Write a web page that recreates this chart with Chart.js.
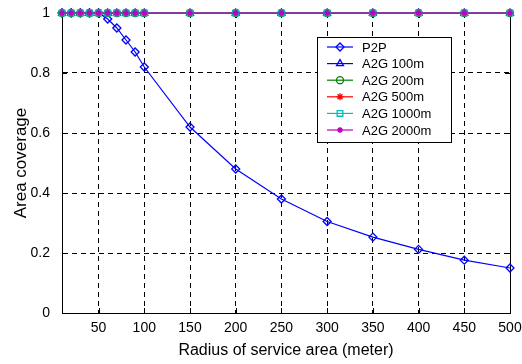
<!DOCTYPE html>
<html>
<head>
<meta charset="utf-8">
<script src="https://cdn.jsdelivr.net/npm/chart.js@4/dist/chart.umd.min.js"></script>
<style>
  html, body { margin: 0; padding: 0; background: #fff; }
  #wrap { width: 522px; height: 364px; position: relative; }
</style>
</head>
<body>
<div id="wrap"><canvas id="c"></canvas></div>
<script>
// ── Data ─────────────────────────────────────────────────────
const radius    = [10, 20, 30, 40, 50, 60, 70, 80, 90, 100, 150, 200, 250, 300, 350, 400, 450, 500];
const p2p       = [1, 1, 1, 1, 1, 0.98, 0.95, 0.91, 0.87, 0.82, 0.62, 0.48, 0.38, 0.305, 0.253, 0.212, 0.176, 0.15];
const a2g100    = [1, 1, 1, 1, 1, 1, 1, 1, 1, 1, 1, 1, 1, 1, 1, 1, 1, 1];
const a2g200    = [1, 1, 1, 1, 1, 1, 1, 1, 1, 1, 1, 1, 1, 1, 1, 1, 1, 1];
const a2g500    = [1, 1, 1, 1, 1, 1, 1, 1, 1, 1, 1, 1, 1, 1, 1, 1, 1, 1];
const a2g1000   = [1, 1, 1, 1, 1, 1, 1, 1, 1, 1, 1, 1, 1, 1, 1, 1, 1, 1];
const a2g2000   = [1, 1, 1, 1, 1, 1, 1, 1, 1, 1, 1, 1, 1, 1, 1, 1, 1, 1];
const xTicks    = [50, 100, 150, 200, 250, 300, 350, 400, 450, 500];
const yTicks    = [0, 0.2, 0.4, 0.6, 0.8, 1];

const FONT = "'Liberation Sans', Arial, sans-serif";

const toXY = (vals) => vals.map((v, i) => ({ x: radius[i], y: v }));

// ── Series definitions ───────────────────────────────────────
const series = [
  { label: 'P2P',        data: p2p,     color: '#0000ff', style: 'rectRot',  r: 4,   fill: false, order: 5 },
  { label: 'A2G 100m',   data: a2g100,  color: '#0000ff', style: 'triangle', r: 4,   fill: false, order: 4 },
  { label: 'A2G 200m',   data: a2g200,  color: '#008000', style: 'circle',   r: 3.5, fill: false, order: 3 },
  { label: 'A2G 500m',   data: a2g500,  color: '#ff0000', style: 'star',     r: 3.5, fill: false, order: 2 },
  { label: 'A2G 1000m',  data: a2g1000, color: '#00bfbf', style: 'rect',     r: 4,   fill: false, order: 1 },
  { label: 'A2G 2000m',  data: a2g2000, color: '#bf00bf', style: 'circle',   r: 2,   fill: true,  order: 0 },
];

const datasets = series.map(s => ({
  label:                s.label,
  data:                 toXY(s.data),
  borderColor:          s.color,
  borderWidth:          1.2,
  pointStyle:           s.style,
  pointRadius:          s.r,
  pointBorderColor:     s.color,
  pointBorderWidth:     1.3,
  pointBackgroundColor: s.fill ? s.color : 'rgba(0,0,0,0)',
  tension:              0,
  fill:                 false,
  clip:                 false,
  order:                s.order,
}));

// ── Plugin: box frame + inward ticks on all four sides ───────
const frame = {
  id: 'frame',
  beforeDatasetsDraw(chart) {
    const { ctx, chartArea: a, scales: { x, y } } = chart;
    ctx.save();
    ctx.strokeStyle = '#000';
    ctx.lineWidth = 1;
    ctx.beginPath();
    xTicks.forEach(t => {
      const px = Math.round(x.getPixelForValue(t)) + 0.5;
      ctx.moveTo(px, a.bottom); ctx.lineTo(px, a.bottom - 5);
      ctx.moveTo(px, a.top);    ctx.lineTo(px, a.top + 5);
    });
    yTicks.forEach(t => {
      const py = Math.round(y.getPixelForValue(t)) + 0.5;
      ctx.moveTo(a.left, py);  ctx.lineTo(a.left + 5, py);
      ctx.moveTo(a.right, py); ctx.lineTo(a.right - 5, py);
    });
    ctx.stroke();
    ctx.strokeRect(Math.round(a.left) + 0.5, Math.round(a.top) + 0.5,
                   Math.round(a.right - a.left), Math.round(a.bottom - a.top));
    ctx.restore();
  }
};

// ── Plugin: MATLAB-style legend inside the plot ──────────────
const boxLegend = {
  id: 'boxLegend',
  afterDraw(chart) {
    const { ctx } = chart;
    const bx = 317, by = 37, bw = 134, bh = 105;
    ctx.save();
    ctx.fillStyle = '#fff';
    ctx.fillRect(bx, by, bw, bh);
    ctx.strokeStyle = '#000';
    ctx.lineWidth = 1;
    ctx.strokeRect(bx + 0.5, by + 0.5, bw, bh);
    ctx.font = `13px ${FONT}`;
    ctx.textBaseline = 'middle';
    series.forEach((s, i) => {
      const yy = by + 10 + i * 16.6;
      ctx.strokeStyle = s.color;
      ctx.lineWidth = 1.2;
      ctx.beginPath();
      ctx.moveTo(327, yy); ctx.lineTo(353, yy);
      ctx.stroke();
      ctx.fillStyle = s.fill ? s.color : 'rgba(0,0,0,0)';
      ctx.lineWidth = 1.3;
      if (Chart.helpers && Chart.helpers.drawPoint) {
        Chart.helpers.drawPoint(ctx, { pointStyle: s.style, radius: s.r, borderWidth: 1.3, rotation: 0 }, 340, yy);
      }
      ctx.fillStyle = '#000';
      ctx.fillText(s.label, 362, yy + 1);
    });
    ctx.restore();
  }
};

const gridOpts = {
  color: '#000',
  lineWidth: 1,
  drawTicks: false,
};

new Chart(document.getElementById('c'), {
  type: 'line',
  data: { datasets },
  options: {
    responsive: true,
    maintainAspectRatio: false,
    animation: false,
    layout: { padding: { top: 13, right: 12, left: 0, bottom: 0 } },
    plugins: {
      legend:  { display: false },
      tooltip: { enabled: false },
    },
    scales: {
      x: {
        type: 'linear',
        min: 10,
        max: 500,
        afterBuildTicks: (s) => { s.ticks = xTicks.map(v => ({ value: v })); },
        afterFit: (s) => { s.height = 51; s.paddingLeft = 0; s.paddingRight = 0; },
        grid: gridOpts,
        border: { display: true, color: '#000', dash: [5, 4] },
        ticks: { color: '#000', padding: 7, maxRotation: 0, autoSkip: false, font: { family: FONT, size: 14 } },
        title: { display: true, text: 'Radius of service area (meter)', color: '#000', padding: { top: 0, bottom: 4 }, font: { family: FONT, size: 16 } },
      },
      y: {
        min: 0,
        max: 1,
        afterBuildTicks: (s) => { s.ticks = yTicks.map(v => ({ value: v })); },
        afterFit: (s) => { s.width = 62; s.paddingTop = 0; s.paddingBottom = 0; },
        grid: gridOpts,
        border: { display: true, color: '#000', dash: [5, 4] },
        ticks: { color: '#000', padding: 12, callback: (v) => String(v), font: { family: FONT, size: 14 } },
        title: { display: true, text: 'Area coverage', color: '#000', padding: { top: 11, bottom: 0 }, font: { family: FONT, size: 17 } },
      },
    },
  },
  plugins: [frame, boxLegend],
});
</script>
</body>
</html>
